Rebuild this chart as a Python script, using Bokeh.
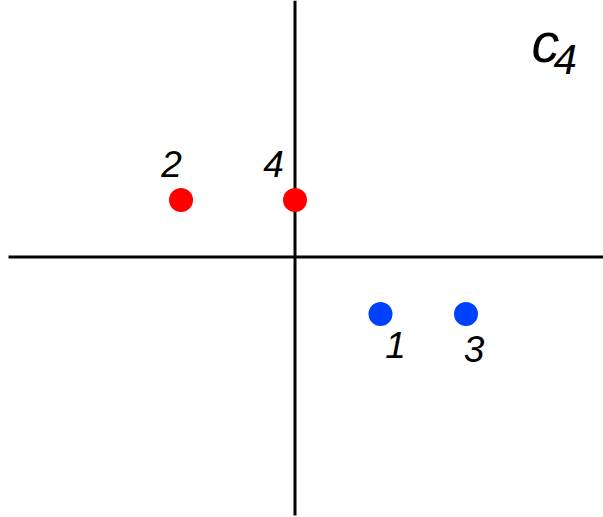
from bokeh.plotting import figure
from bokeh.models import ColumnDataSource, Range1d, Label
from bokeh.embed import file_html
from bokeh.resources import INLINE

# data
point_labels = ["1", "2", "3", "4"]
x_values = [1.0, -1.333, 2.0, 0.0]
y_values = [-0.667, 0.667, -0.667, 0.667]
groups = ["blue", "red", "blue", "red"]
title_main = "c"
title_sub = "4"

# styling
colour_map = {"blue": "#0040ff", "red": "#ff0000"}
label_dx = [15, -9.5, 8, -21.5]
label_dy = [31, -36, 35, -36]

W, H = 603, 517
unit = 85.5
ox, oy = 294.5, 256.5

xr = Range1d(-ox / unit, (W - ox) / unit)
yr = Range1d(-(H - oy) / unit, oy / unit)
p = figure(width=W, height=H, output_backend="svg", toolbar_location=None,
           x_range=xr, y_range=yr, min_border=0)
p.axis.visible = False
p.grid.visible = False
p.outline_line_color = None
p.background_fill_color = "white"
p.border_fill_color = "white"

# axis lines through the origin
p.segment(x0=[xr.start + 8 / unit, 0], y0=[0, yr.start + 2 / unit],
          x1=[xr.end, 0], y1=[0, yr.end], line_color="black", line_width=3)

src = ColumnDataSource(dict(
    x=x_values, y=y_values, lab=point_labels,
    color=[colour_map[g] for g in groups],
    dx=label_dx, dy=label_dy,
))
p.scatter("x", "y", source=src, size=24, fill_color="color", line_color=None)
p.text("x", "y", text="lab", source=src, x_offset="dx", y_offset="dy",
       text_font_size="37px", text_font_style="italic",
       text_font={"value": "Liberation Sans"},
       text_align="center", text_baseline="alphabetic", text_color="black")

p.add_layout(Label(x=(531 - ox) / unit, y=(oy - 42) / unit, text=title_main,
                   text_font="Liberation Sans", text_font_style="italic", text_color="black",
                   text_font_size="56px", text_baseline="alphabetic", text_align="left"))
p.add_layout(Label(x=(553 - ox) / unit, y=(oy - 59) / unit, text=title_sub,
                   text_font="Liberation Sans", text_font_style="italic", text_color="black",
                   text_font_size="42px", text_baseline="alphabetic", text_align="left"))

open("out.html", "w").write(file_html(p, INLINE))
